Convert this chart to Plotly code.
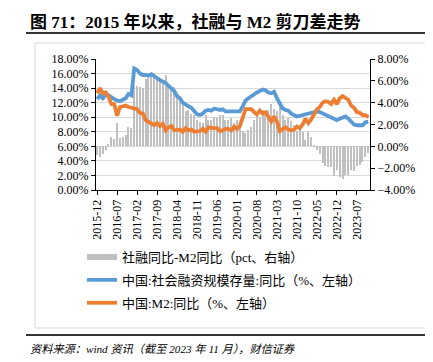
import pandas as pd
import plotly.graph_objects as go

# ---------------- data ----------------
months = pd.date_range("2015-12-01", periods=96, freq="MS").strftime("%Y-%m").tolist()

# 中国:社会融资规模存量:同比 (%, left axis)
tsf_yoy = [12.5, 13.0, 12.6, 13.1, 13.0, 12.7, 12.5, 12.3, 12.2, 12.4, 12.6, 13.2, 13.0,
           16.7, 16.5, 16.0, 15.8, 15.8, 15.7, 15.9, 15.6, 15.3, 15.1, 14.9, 14.7,
           14.3, 14.0, 13.6, 12.9, 12.6, 12.0, 11.7, 11.5, 11.3, 10.9, 10.4, 10.3,
           10.5, 10.9, 11.0, 10.9, 11.2, 11.1, 11.0, 11.1, 10.8, 10.8, 10.8, 10.8,
           10.8, 10.8, 11.5, 12.3, 12.6, 12.9, 13.1, 13.4, 13.6, 13.8, 13.7, 13.4,
           13.3, 13.5, 12.6, 11.8, 11.2, 11.0, 10.9, 10.5, 10.3, 10.1, 10.2, 10.3,
           10.4, 10.5, 10.6, 10.6, 10.8, 10.7, 10.5, 10.4, 10.2, 9.9, 9.7, 9.6,
           9.8, 9.9, 10.1, 9.8, 9.4, 9.0, 8.9, 8.9, 8.9, 9.3, 9.4]

# 中国:M2:同比 (%, left axis)
m2_yoy = [13.3, 14.0, 13.3, 13.4, 12.8, 11.8, 11.8, 10.2, 11.4, 11.5, 11.6, 11.4, 11.3,
          11.3, 11.1, 10.6, 10.5, 9.6, 9.4, 9.2, 8.9, 9.2, 8.8, 9.1, 8.2,
          8.6, 8.8, 8.2, 8.3, 8.3, 8.0, 8.5, 8.2, 8.3, 8.0, 8.0, 8.1,
          8.4, 8.0, 8.6, 8.5, 8.5, 8.5, 8.1, 8.2, 8.4, 8.4, 8.2, 8.7,
          8.4, 8.8, 10.1, 11.1, 11.1, 11.1, 10.7, 10.4, 10.9, 10.5, 10.7, 10.1,
          9.4, 10.1, 9.4, 8.1, 8.3, 8.6, 8.3, 8.2, 8.3, 8.7, 8.5, 9.0,
          9.8, 9.2, 9.7, 10.5, 11.1, 11.4, 12.0, 12.2, 12.1, 11.8, 12.4, 11.8,
          12.6, 12.9, 12.7, 12.4, 11.6, 11.3, 10.7, 10.6, 10.3, 10.3, 10.0]

# 社融同比-M2同比 (pct, right axis)
spread = [-0.8, -1.0, -0.7, -0.3, 0.2, 0.9, 0.7, 2.1, 0.8, 0.9, 1.0, 1.8, 1.7,
          5.5, 5.5, 5.4, 5.3, 6.2, 6.3, 6.7, 6.7, 6.1, 6.3, 5.8, 6.5,
          5.7, 5.2, 5.4, 4.6, 4.3, 4.0, 3.2, 3.3, 3.0, 2.9, 2.4, 2.2,
          2.1, 2.9, 2.4, 2.4, 2.7, 2.6, 2.9, 2.9, 2.4, 2.4, 2.6, 2.1,
          2.4, 2.0, 1.4, 1.2, 1.5, 1.8, 2.4, 3.0, 2.7, 3.3, 3.0, 3.3,
          3.9, 3.4, 3.2, 3.7, 2.9, 2.4, 2.6, 2.3, 2.0, 1.4, 1.7, 1.3,
          0.6, 1.3, 0.9, 0.1, -0.3, -0.7, -1.5, -1.8, -1.9, -1.9, -2.7, -2.2,
          -2.8, -3.0, -2.6, -2.6, -2.2, -2.3, -1.8, -1.7, -1.4, -1.0, -0.6]

tick_labels = months[::7]

# ---------------- layout helpers ----------------
W, H = 433, 362
L, R, T, B = 88, 362, 51, 182


def px(x):
    return (x - L) / (R - L)


def py(y):
    return (B - y) / (B - T)


SERIF = "Liberation Serif, Noto Sans CJK SC"
GREY, BLUE, ORANGE = "#C0C0C0", "#5B9BD5", "#ED7D31"

fig = go.Figure()
fig.add_trace(go.Bar(x=months, y=spread, yaxis="y", marker_color=GREY,
                     marker_line_width=0, width=0.42, showlegend=False,
                     name="社融同比-M2同比（pct、右轴）"))
fig.add_trace(go.Scatter(x=[None], y=[None], yaxis="y2", mode="lines",
                         line=dict(color=GREY, width=6), legendgroup="a",
                         name="社融同比-M2同比（pct、右轴）"))
fig.add_trace(go.Scatter(x=months, y=tsf_yoy, yaxis="y2", mode="lines",
                         line=dict(color=BLUE, width=3.8), legendgroup="b",
                         name="中国:社会融资规模存量:同比（%、左轴）"))
fig.add_trace(go.Scatter(x=months, y=m2_yoy, yaxis="y2", mode="lines",
                         line=dict(color=ORANGE, width=3.8), legendgroup="c",
                         name="中国:M2:同比（%、左轴）"))

axis_common = dict(showline=True, linecolor="black", linewidth=1,
                   ticks="outside", ticklen=4, tickcolor="black",
                   tickfont=dict(family=SERIF, size=12, color="black"))

fig.update_layout(
    width=W, height=H,
    margin=dict(l=L, r=W - R, t=T, b=H - B, pad=0),
    paper_bgcolor="white", plot_bgcolor="white",
    bargap=0,
    xaxis=dict(type="category", range=[-0.4, 95.6], tickmode="array",
               tickvals=tick_labels, ticktext=tick_labels, tickangle=-90,
               showgrid=False, **axis_common),
    yaxis=dict(side="right", range=[-4, 8], dtick=2, tick0=0,
               tickformat=".2f", ticksuffix="%", showgrid=False,
               zeroline=False, **axis_common),
    yaxis2=dict(overlaying="y", side="left", range=[0, 18], dtick=2, tick0=0,
                tickformat=".2f", ticksuffix="%", showgrid=True,
                gridcolor="#D9D9D9", gridwidth=1, zeroline=False,
                **axis_common),
    legend=dict(x=px(74), y=py(234), xanchor="left", yanchor="top",
                bgcolor="rgba(0,0,0,0)", itemwidth=30, tracegroupgap=3,
                font=dict(family=SERIF, size=13, color="black")),
    showlegend=True,
)

shapes = [
    dict(type="line", xref="paper", yref="paper", x0=px(18), x1=px(420),
         y0=py(25), y1=py(25), line=dict(color="#333333", width=2)),
    dict(type="rect", xref="paper", yref="paper", x0=px(27), x1=px(418),
         y0=py(35), y1=py(320), line=dict(color="#D9D9D9", width=1)),
    dict(type="line", xref="paper", yref="paper", x0=px(18), x1=px(420),
         y0=py(327), y1=py(327), line=dict(color="#333333", width=2)),
]
fig.update_layout(shapes=shapes)

fig.add_annotation(x=px(20), y=py(14), xref="paper", yref="paper",
                   xanchor="left", yanchor="middle", showarrow=False,
                   text="<b>图 71：2015 年以来，社融与 M2 剪刀差走势</b>",
                   font=dict(family=SERIF, size=17, color="black"))
fig.add_annotation(x=px(20), y=py(341), xref="paper", yref="paper",
                   xanchor="left", yanchor="middle", showarrow=False,
                   text="<i>资料来源：wind 资讯（截至 2023 年 11 月），财信证券</i>",
                   font=dict(family=SERIF, size=11.2, color="black"))

fig.write_html("out.html")
